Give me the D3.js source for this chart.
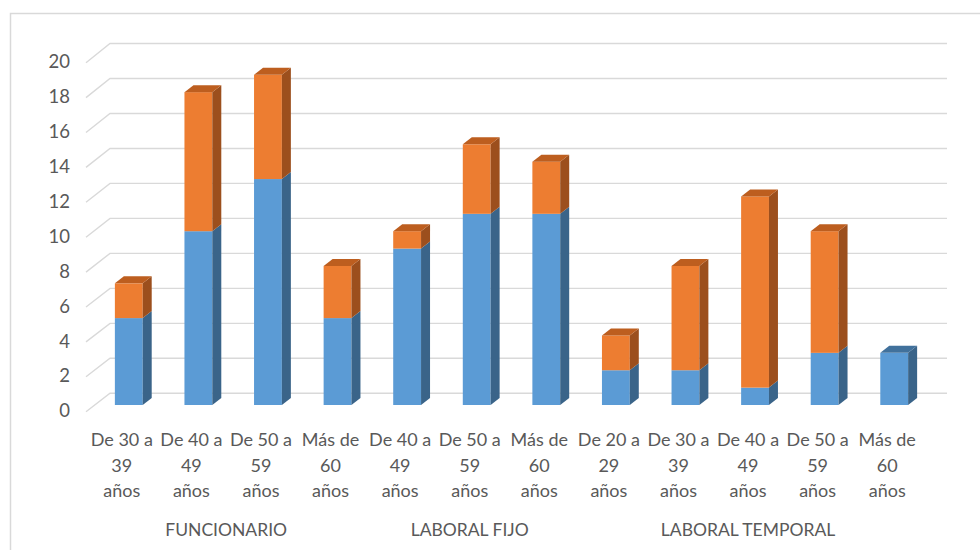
<!DOCTYPE html>
<html>
<head>
<meta charset="utf-8">
<script src="https://cdn.jsdelivr.net/npm/d3@7"></script>
<style>
  html, body { margin: 0; padding: 0; background: #ffffff; }
  svg { display: block; }
  text { font-family: Lato, "Open Sans", sans-serif; fill: #595959; }
</style>
</head>
<body>
<svg id="chart" width="980" height="550"></svg>
<script>
// Age brackets (three text lines each), grouped by contract type
const categories = [
  ["De 30 a", "39", "años"],
  ["De 40 a", "49", "años"],
  ["De 50 a", "59", "años"],
  ["Más de", "60", "años"],
  ["De 40 a", "49", "años"],
  ["De 50 a", "59", "años"],
  ["Más de", "60", "años"],
  ["De 20 a", "29", "años"],
  ["De 30 a", "39", "años"],
  ["De 40 a", "49", "años"],
  ["De 50 a", "59", "años"],
  ["Más de", "60", "años"]
];
const groups = ["FUNCIONARIO", "LABORAL FIJO", "LABORAL TEMPORAL"];
const groupOf = [0, 0, 0, 0, 1, 1, 1, 2, 2, 2, 2, 2];

// Stacked series (bottom: blue, top: orange)
const serie1 = [5, 10, 13, 5, 9, 11, 11, 2, 2, 1, 3, 3];
const serie2 = [2, 8, 6, 3, 1, 4, 3, 2, 6, 11, 7, 0];

const yTicks = [0, 2, 4, 6, 8, 10, 12, 14, 16, 18, 20];

const palette = [
  { front: "#5b9bd5", side: "#3a6489", top: "#41719c" },
  { front: "#ed7d31", side: "#9c4f1d", top: "#bd5e1f" }
];

const svg = d3.select("#chart");

// Chart area outline
svg.append("rect")
  .attr("x", 10.5).attr("y", 13.5)
  .attr("width", 1000).attr("height", 600)
  .attr("fill", "none").attr("stroke", "#d9d9d9").attr("stroke-width", 1.5);

// Scales: back wall, axis labels (front edge of the floor) and bar front faces
const wallLeft = 110, wallRight = 947, floorDx = -24;
const yWall = d3.scaleLinear().domain([0, 20]).range([393.3, 43.5]);
const yEdge = d3.scaleLinear().domain([0, 20]).range([411.7, 62.7]);
const yBar = d3.scaleLinear().domain([0, 20]).range([405, 57.4]);
const x = d3.scaleBand()
  .domain(d3.range(categories.length))
  .range([94, 929])
  .paddingInner(0.6)
  .paddingOuter(0.3);
const depth = { dx: 9, dy: -7 };

// Gridlines on the back wall with their diagonal run along the side
const grid = svg.append("g");
yTicks.forEach(v => {
  grid.append("path")
    .attr("d", `M${wallLeft + floorDx},${yEdge(v)} L${wallLeft},${yWall(v)} L${wallRight},${yWall(v)}`)
    .attr("fill", "none").attr("stroke", "#d9d9d9").attr("stroke-width", 1.4);
});

// Value axis labels
svg.append("g").selectAll("text")
  .data(yTicks).join("text")
  .attr("x", 70).attr("y", d => yEdge(d) + 1)
  .attr("text-anchor", "end").attr("dominant-baseline", "middle")
  .attr("font-size", 18.5)
  .text(d => d);

// Stacked 3D columns
const stack = d3.stack().keys([0, 1]).value((d, k) => d[k]);
const rows = serie1.map((v, i) => [v, serie2[i]]);
const layers = stack(rows);

const bars = svg.append("g");
const w = x.bandwidth();
categories.forEach((c, i) => {
  const x0 = x(i), x1 = x0 + w;
  const topSeries = rows[i][1] > 0 ? 1 : 0;
  layers.forEach((layer, s) => {
    const [lo, hi] = layer[i];
    if (hi - lo <= 0) return;
    const yb = yBar(lo), yt = yBar(hi);
    const col = palette[s];
    bars.append("rect")
      .attr("x", x0).attr("y", yt).attr("width", w).attr("height", yb - yt)
      .attr("fill", col.front);
    bars.append("path")
      .attr("d", `M${x1},${yt} L${x1 + depth.dx},${yt + depth.dy} L${x1 + depth.dx},${yb + depth.dy} L${x1},${yb} Z`)
      .attr("fill", col.side);
    if (s === topSeries) {
      bars.append("path")
        .attr("d", `M${x0},${yt} L${x0 + depth.dx},${yt + depth.dy} L${x1 + depth.dx},${yt + depth.dy} L${x1},${yt} Z`)
        .attr("fill", col.top);
    }
  });
});

// Category labels (three lines)
const labelShift = -7;
const catG = svg.append("g");
categories.forEach((lines, i) => {
  const cx = x(i) + w / 2 + labelShift;
  const t = catG.append("text")
    .attr("text-anchor", "middle").attr("font-size", 18);
  lines.forEach((ln, j) => {
    t.append("tspan").attr("x", cx).attr("y", 446 + j * 25.5).text(ln);
  });
});

// Group labels centred under their categories
const grpG = svg.append("g");
groups.forEach((g, gi) => {
  const idx = d3.range(categories.length).filter(i => groupOf[i] === gi);
  const cx = d3.mean(idx, i => x(i) + w / 2 + labelShift);
  grpG.append("text")
    .attr("x", cx).attr("y", 536)
    .attr("text-anchor", "middle").attr("font-size", 17.5)
    .text(g);
});
</script>
</body>
</html>
